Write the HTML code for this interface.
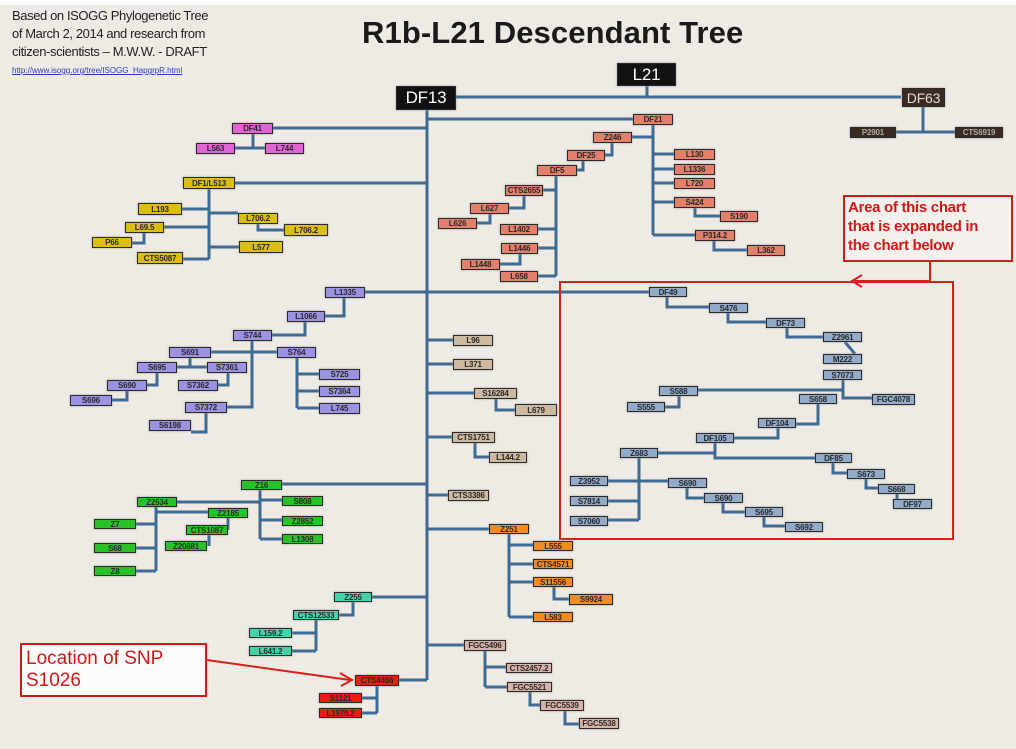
<!DOCTYPE html>
<html><head><meta charset="utf-8"><style>
body{margin:0;width:1016px;height:749px;overflow:hidden;background:#eeeae4;position:relative;font-family:"Liberation Sans",sans-serif}
.b{position:absolute;box-sizing:border-box;border:1.5px solid #2a2a2a;font-size:8px;font-weight:bold;text-align:center;color:#2a2a2a;overflow:hidden;white-space:nowrap;box-shadow:0 0 2px #999;display:flex;align-items:center;justify-content:center;letter-spacing:-0.2px}
.pk{background:#e064d4}.ye{background:#dcbe12}.pu{background:#9c92e2}.sa{background:#e2806c}.ta{background:#cdb9a0}.bl{background:#92abc9}.gr{background:#28c228}.te{background:#44d2aa}.or{background:#f08c24}.rd{background:#e4200e}.fg{background:#d8b2a8}
svg{position:absolute;left:0;top:0}
</style></head><body>
<div style="position:absolute;left:0;top:0;width:1016px;height:5px;background:#fafafa"></div>
<div style="position:absolute;left:12px;top:7px;font-size:13px;line-height:18px;color:#222;letter-spacing:-0.4px">Based on ISOGG Phylogenetic Tree<br>of March 2, 2014 and research from<br>citizen-scientists – M.W.W. - DRAFT</div>
<div style="position:absolute;left:12px;top:66px;font-size:8px;color:#2a3cc0;text-decoration:underline">http://www.isogg.org/tree/ISOGG_HapgrpR.html</div>
<div style="position:absolute;left:362px;top:15px;font-weight:bold;font-size:31px;color:#1a1a1a;letter-spacing:0.1px">R1b-L21 Descendant Tree</div>

<svg width="1016" height="749">
<g stroke="#3d6b94" stroke-width="3" fill="none">
<path d="M456 97H901M647 86V97M923 107V132M895 132H955"/>
<path d="M427 110V680"/>
<path d="M273 128H427M253 133V148M235 148H265"/>
<path d="M235 183H427M209 189V259M182 209H209M209 213H238M258 224V230H284M164 227H209M144 232V243H132M209 247H239M183 259H209"/>
<path d="M365 292H649M344 297V316H325M305 321V335H272M211 352H277M252 340V407H227M190 357V367M177 367H207M157 372V385H147M127 390V400H112M228 372V385H218M206 412V432H191M297 357V408M297 374H319M297 391H319M297 408H319"/>
<path d="M427 119H633M632 137H653M612 142V155H605M583 160V170H577M653 124V235M556 175V276M543 190H556M524 195V208H509M490 213V223H477M538 229H556M538 248H556M520 253V264H500M538 276H556M653 154H674M653 169H674M653 183H674M653 202H674M695 207V216H720M653 235H695M714 240V250H747"/>
<path d="M427 340H453M427 364H453M427 393H474M496 398V410H515M427 437H452M475 443V457H489M427 495H448"/>
<path d="M282 484H427M260 489V539M177 502H260M260 500H282M260 520H282M260 539H282M156 512H208M156 507V571M136 524H156M136 548H156M136 571H156M228 518V530M209 535V546"/>
<path d="M427 529H489M509 533V617M509 545H533M509 564H533M509 582H533M554 587V599H569M509 617H533"/>
<path d="M372 597H427M353 602V615H339M316 620V651M292 633H316M292 651H316"/>
<path d="M399 680H427M377 686V713M362 698H377M362 713H377"/>
<path d="M427 645H464M485 651V687M485 667H506M485 687H507M530 692V705H540M565 711V724H579"/>
<path d="M667 296V307H709M728 312V322H766M787 327V337H823M845 342L855 354M843 379V398H872M698 390H843M679 395V407H665M818 404V424H796M778 428V438H734M715 442V458H815M658 453H715M639 458V520M608 481H668M608 501H639M608 520H639M687 487V498H704M723 502V512H745M764 516V526H785M833 463V473H847M866 478V488H878M897 493V504H893"/>
</g>
<g stroke="#d8201a" stroke-width="2" fill="none">
<rect x="560" y="282" width="393" height="257"/>
<path d="M930 262V281H854M862 275L852 281L862 287"/>
<path d="M207 660L350 680M340 673L352 680L341 686"/>
</g>
</svg>

<div style="position:absolute;left:843px;top:195px;width:170px;height:67px;box-sizing:border-box;border:2px solid #c82018;background:#f4f0ec;color:#d01818;font-size:15px;font-weight:bold;line-height:19px;padding:1px 3px;letter-spacing:-0.3px;white-space:nowrap">Area of this chart<br>that is expanded in<br>the chart below</div>
<div style="position:absolute;left:20px;top:643px;width:187px;height:54px;box-sizing:border-box;border:2px solid #d01818;background:#fbfbfb;color:#d01818;font-size:19px;line-height:22px;padding:3px 4px">Location of SNP<br>S1026</div>

<div class="b" style="left:617px;top:63px;width:59px;height:23px;background:#111;color:#fff;font-size:17px;font-weight:normal">L21</div>
<div class="b" style="left:396px;top:86px;width:60px;height:24px;background:#111;color:#fff;font-size:17px;font-weight:normal">DF13</div>
<div class="b" style="left:902px;top:88px;width:43px;height:19px;background:#3a2a22;color:#ddd;font-size:14px;font-weight:normal">DF63</div>
<div class="b" style="left:850px;top:127px;width:46px;height:11px;background:#3a2a22;color:#aaa">P2901</div>
<div class="b" style="left:955px;top:127px;width:48px;height:11px;background:#3a2a22;color:#aaa">CTS6919</div>

<div class="b pk" style="left:232px;top:123px;width:41px;height:11px">DF41</div>
<div class="b pk" style="left:196px;top:143px;width:39px;height:11px">L563</div>
<div class="b pk" style="left:265px;top:143px;width:39px;height:11px">L744</div>

<div class="b ye" style="left:183px;top:177px;width:52px;height:12px">DF1/L513</div>
<div class="b ye" style="left:138px;top:203px;width:44px;height:12px">L193</div>
<div class="b ye" style="left:238px;top:213px;width:40px;height:11px">L706.2</div>
<div class="b ye" style="left:284px;top:224px;width:44px;height:12px">L706.2</div>
<div class="b ye" style="left:125px;top:222px;width:39px;height:11px">L69.5</div>
<div class="b ye" style="left:92px;top:237px;width:40px;height:11px">P66</div>
<div class="b ye" style="left:239px;top:241px;width:44px;height:12px">L577</div>
<div class="b ye" style="left:137px;top:252px;width:46px;height:12px">CTS5087</div>

<div class="b pu" style="left:325px;top:287px;width:40px;height:11px">L1335</div>
<div class="b pu" style="left:287px;top:311px;width:38px;height:11px">L1066</div>
<div class="b pu" style="left:233px;top:330px;width:39px;height:11px">S744</div>
<div class="b pu" style="left:169px;top:347px;width:42px;height:11px">S691</div>
<div class="b pu" style="left:277px;top:347px;width:39px;height:11px">S764</div>
<div class="b pu" style="left:137px;top:362px;width:40px;height:11px">S695</div>
<div class="b pu" style="left:207px;top:362px;width:40px;height:11px">S7361</div>
<div class="b pu" style="left:107px;top:380px;width:40px;height:11px">S690</div>
<div class="b pu" style="left:178px;top:380px;width:40px;height:11px">S7362</div>
<div class="b pu" style="left:70px;top:395px;width:42px;height:11px">S696</div>
<div class="b pu" style="left:185px;top:402px;width:42px;height:11px">S7372</div>
<div class="b pu" style="left:149px;top:420px;width:42px;height:11px">S6198</div>
<div class="b pu" style="left:319px;top:369px;width:41px;height:11px">S725</div>
<div class="b pu" style="left:319px;top:386px;width:41px;height:11px">S7364</div>
<div class="b pu" style="left:319px;top:403px;width:41px;height:11px">L745</div>

<div class="b sa" style="left:633px;top:114px;width:40px;height:11px">DF21</div>
<div class="b sa" style="left:593px;top:132px;width:39px;height:11px">Z246</div>
<div class="b sa" style="left:567px;top:150px;width:38px;height:11px">DF25</div>
<div class="b sa" style="left:537px;top:165px;width:40px;height:11px">DF5</div>
<div class="b sa" style="left:505px;top:185px;width:38px;height:11px">CTS2655</div>
<div class="b sa" style="left:470px;top:203px;width:39px;height:11px">L627</div>
<div class="b sa" style="left:438px;top:218px;width:39px;height:11px">L626</div>
<div class="b sa" style="left:500px;top:224px;width:38px;height:11px">L1402</div>
<div class="b sa" style="left:501px;top:243px;width:37px;height:11px">L1446</div>
<div class="b sa" style="left:461px;top:259px;width:39px;height:11px">L1448</div>
<div class="b sa" style="left:500px;top:271px;width:38px;height:11px">L658</div>
<div class="b sa" style="left:674px;top:149px;width:41px;height:11px">L130</div>
<div class="b sa" style="left:674px;top:164px;width:41px;height:11px">L1336</div>
<div class="b sa" style="left:674px;top:178px;width:41px;height:11px">L720</div>
<div class="b sa" style="left:674px;top:197px;width:41px;height:11px">S424</div>
<div class="b sa" style="left:720px;top:211px;width:38px;height:11px">S190</div>
<div class="b sa" style="left:695px;top:230px;width:40px;height:11px">P314.2</div>
<div class="b sa" style="left:747px;top:245px;width:38px;height:11px">L362</div>

<div class="b ta" style="left:453px;top:335px;width:40px;height:11px">L96</div>
<div class="b ta" style="left:453px;top:359px;width:40px;height:11px">L371</div>
<div class="b ta" style="left:474px;top:388px;width:43px;height:11px">S16284</div>
<div class="b ta" style="left:515px;top:404px;width:42px;height:12px">L679</div>
<div class="b ta" style="left:452px;top:432px;width:43px;height:11px">CTS1751</div>
<div class="b ta" style="left:489px;top:452px;width:38px;height:11px">L144.2</div>
<div class="b ta" style="left:448px;top:490px;width:41px;height:11px">CTS3386</div>

<div class="b bl" style="left:649px;top:287px;width:38px;height:10px">DF49</div>
<div class="b bl" style="left:709px;top:303px;width:39px;height:10px">S476</div>
<div class="b bl" style="left:766px;top:318px;width:39px;height:10px">DF73</div>
<div class="b bl" style="left:823px;top:332px;width:39px;height:10px">Z2961</div>
<div class="b bl" style="left:823px;top:354px;width:39px;height:10px">M222</div>
<div class="b bl" style="left:823px;top:370px;width:39px;height:10px">S7073</div>
<div class="b bl" style="left:872px;top:394px;width:43px;height:11px">FGC4078</div>
<div class="b bl" style="left:659px;top:386px;width:39px;height:10px">S588</div>
<div class="b bl" style="left:627px;top:402px;width:38px;height:10px">S555</div>
<div class="b bl" style="left:799px;top:394px;width:38px;height:10px">S658</div>
<div class="b bl" style="left:758px;top:418px;width:38px;height:10px">DF104</div>
<div class="b bl" style="left:696px;top:433px;width:38px;height:10px">DF105</div>
<div class="b bl" style="left:620px;top:448px;width:38px;height:10px">Z683</div>
<div class="b bl" style="left:815px;top:453px;width:37px;height:10px">DF85</div>
<div class="b bl" style="left:847px;top:469px;width:38px;height:10px">S673</div>
<div class="b bl" style="left:878px;top:484px;width:37px;height:10px">S668</div>
<div class="b bl" style="left:893px;top:499px;width:39px;height:10px">DF97</div>
<div class="b bl" style="left:570px;top:476px;width:38px;height:10px">Z3952</div>
<div class="b bl" style="left:570px;top:496px;width:38px;height:10px">S7814</div>
<div class="b bl" style="left:570px;top:516px;width:38px;height:10px">S7060</div>
<div class="b bl" style="left:668px;top:478px;width:39px;height:10px">S690</div>
<div class="b bl" style="left:704px;top:493px;width:39px;height:10px">S690</div>
<div class="b bl" style="left:745px;top:507px;width:38px;height:10px">S695</div>
<div class="b bl" style="left:785px;top:522px;width:38px;height:10px">S692</div>

<div class="b gr" style="left:241px;top:480px;width:41px;height:10px">Z16</div>
<div class="b gr" style="left:137px;top:497px;width:40px;height:10px">Z2534</div>
<div class="b gr" style="left:208px;top:508px;width:40px;height:10px">Z2185</div>
<div class="b gr" style="left:186px;top:525px;width:42px;height:10px">CTS1087</div>
<div class="b gr" style="left:165px;top:541px;width:42px;height:10px">Z20881</div>
<div class="b gr" style="left:94px;top:519px;width:42px;height:10px">Z7</div>
<div class="b gr" style="left:94px;top:543px;width:42px;height:10px">S68</div>
<div class="b gr" style="left:94px;top:566px;width:42px;height:10px">Z8</div>
<div class="b gr" style="left:282px;top:496px;width:41px;height:10px">S808</div>
<div class="b gr" style="left:282px;top:516px;width:41px;height:10px">Z2852</div>
<div class="b gr" style="left:282px;top:534px;width:41px;height:10px">L1308</div>

<div class="b or" style="left:489px;top:524px;width:40px;height:10px">Z251</div>
<div class="b or" style="left:533px;top:541px;width:40px;height:10px">L555</div>
<div class="b or" style="left:533px;top:559px;width:40px;height:10px">CTS4571</div>
<div class="b or" style="left:533px;top:577px;width:40px;height:10px">S11556</div>
<div class="b or" style="left:569px;top:594px;width:44px;height:11px">S9924</div>
<div class="b or" style="left:533px;top:612px;width:40px;height:10px">L583</div>

<div class="b te" style="left:334px;top:592px;width:38px;height:10px">Z255</div>
<div class="b te" style="left:293px;top:610px;width:46px;height:10px">CTS12533</div>
<div class="b te" style="left:249px;top:628px;width:43px;height:10px">L159.2</div>
<div class="b te" style="left:249px;top:646px;width:43px;height:10px">L641.2</div>

<div class="b rd" style="left:355px;top:675px;width:44px;height:11px">CTS4466</div>
<div class="b rd" style="left:319px;top:693px;width:43px;height:10px">S1121</div>
<div class="b rd" style="left:319px;top:708px;width:43px;height:10px">L1970.2</div>

<div class="b fg" style="left:464px;top:640px;width:42px;height:11px">FGC5496</div>
<div class="b fg" style="left:506px;top:663px;width:46px;height:10px">CTS2457.2</div>
<div class="b fg" style="left:507px;top:682px;width:45px;height:10px">FGC5521</div>
<div class="b fg" style="left:540px;top:700px;width:44px;height:11px">FGC5539</div>
<div class="b fg" style="left:579px;top:718px;width:40px;height:11px">FGC5538</div>
</body></html>
